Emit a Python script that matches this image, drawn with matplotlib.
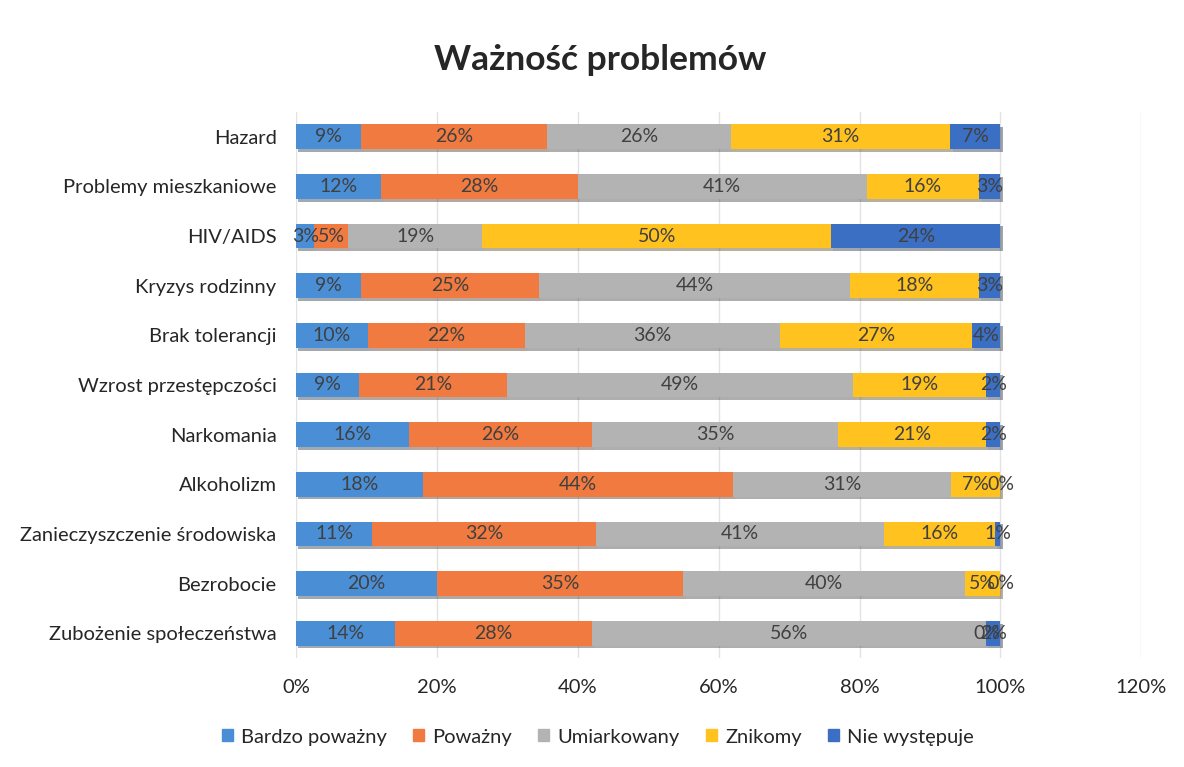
import matplotlib
matplotlib.use("Agg")
import matplotlib.pyplot as plt
import matplotlib.patheffects as pe
import numpy as np

categories = ["Hazard", "Problemy mieszkaniowe", "HIV/AIDS", "Kryzys rodzinny",
              "Brak tolerancji", "Wzrost przestępczości", "Narkomania", "Alkoholizm",
              "Zanieczyszczenie środowiska", "Bezrobocie", "Zubożenie społeczeństwa"]
series_names = ["Bardzo poważny", "Poważny", "Umiarkowany", "Znikomy", "Nie występuje"]
bardzo_powazny = [9.2, 12.0, 2.6, 9.2, 10.2, 9.0, 16.0, 18.0, 10.8, 20.0, 14.0]
powazny = [26.4, 28.0, 4.8, 25.3, 22.3, 21.0, 26.0, 44.0, 31.8, 35.0, 28.0]
umiarkowany = [26.1, 41.0, 19.0, 44.2, 36.2, 49.0, 35.0, 31.0, 40.8, 40.0, 56.0]
znikomy = [31.2, 16.0, 49.6, 18.2, 27.2, 19.0, 21.0, 7.0, 15.8, 5.0, 0.0]
nie_wystepuje = [7.1, 3.0, 24.0, 3.1, 4.1, 2.0, 2.0, 0.0, 0.8, 0.0, 2.0]
xticks = [0, 20, 40, 60, 80, 100, 120]
colors = ["#4A8FD6", "#F07A3F", "#B3B3B3", "#FFC21F", "#3A6FC4"]

fam = ["Lato", "DejaVu Sans"]
plt.rcParams['font.family'] = fam

fig = plt.figure(figsize=(11.84, 7.67), dpi=100)
ax = fig.add_axes([0.25, 1 - 658 / 767, 0.964 - 0.25, (658 - 112) / 767])

data = [bardzo_powazny, powazny, umiarkowany, znikomy, nie_wystepuje]
y = np.arange(len(categories))
left = np.zeros(len(categories))
shadow = [pe.SimplePatchShadow(offset=(1.5, -2), alpha=0.4), pe.Normal()]
for vals, name, col in zip(data, series_names, colors):
    vals = np.array(vals, dtype=float)
    bars = ax.barh(y, vals, left=left, height=0.5, color=col, label=name, zorder=3)
    for b in bars:
        b.set_path_effects(shadow)
    for yi, (l, v) in enumerate(zip(left, vals)):
        ax.text(l + v / 2, yi, f"{v:.0f}%", ha="center", va="center",
                fontsize=14, color="#404040", zorder=4)
    left += vals

ax.set_xlim(0, 120)
ax.set_ylim(len(categories) - 0.5, -0.5)
ax.set_yticks(y)
ax.set_yticklabels(categories, fontsize=14.5, color="#262626")
ax.set_xticks(xticks)
ax.set_xticklabels([f"{t}%" for t in xticks], fontsize=14.5, color="#262626")
ax.tick_params(axis="both", length=0)
ax.tick_params(axis="x", pad=15)
ax.tick_params(axis="y", pad=14)
for s in ax.spines.values():
    s.set_visible(False)
ax.xaxis.grid(True, color="#E3E3E3", linewidth=1, zorder=0)
ax.set_axisbelow(True)

fig.text(0.507, 1 - 60 / 767, "Ważność problemów", ha="center", va="center",
         fontsize=25.5, fontweight="bold", color="#262626")

handles = [plt.Rectangle((0, 0), 1, 1, color=c) for c in colors]
fig.legend(handles, series_names, loc="center", bbox_to_anchor=(0.505, 1 - 737 / 767),
           ncol=5, frameon=False, fontsize=14.5, handlelength=0.55, handleheight=0.55,
           handletextpad=0.4, columnspacing=1.3, labelcolor="#262626")

fig.savefig("out.png", dpi=100, facecolor="white")
